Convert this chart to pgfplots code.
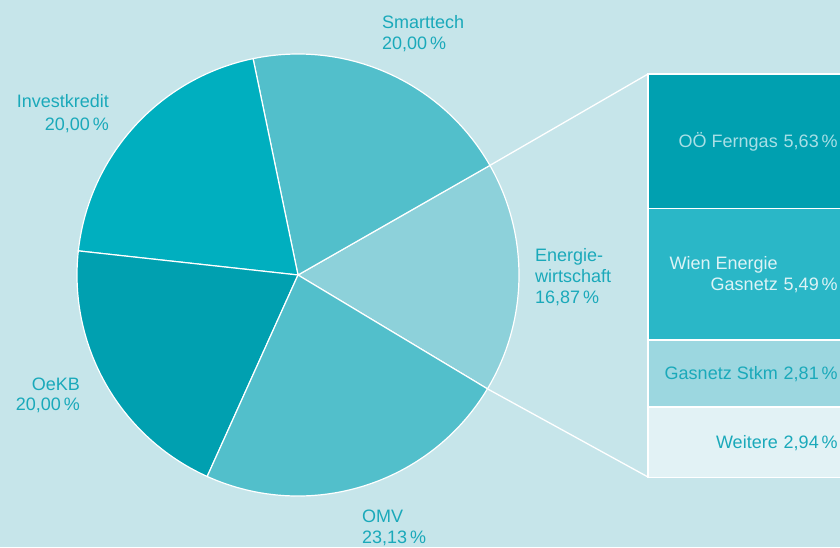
\documentclass[border=0pt]{standalone}
\usepackage{pgfplots}
\pgfplotsset{compat=1.18}
\usepackage{fontspec}
\setmainfont{Liberation Sans}
\definecolor{bgc}{HTML}{C6E5EA}
\definecolor{cdark}{HTML}{00A0B0}
\definecolor{cinv}{HTML}{00AFBF}
\definecolor{cmid}{HTML}{52BFCB}
\definecolor{cen}{HTML}{8DD1DA}
\definecolor{cwien}{HTML}{2AB7C7}
\definecolor{cgas}{HTML}{9CD7E0}
\definecolor{cweit}{HTML}{E2F2F5}
\definecolor{txt}{HTML}{1AA9BA}
\definecolor{txtl}{HTML}{A8DFE6}
\definecolor{txtw}{HTML}{DDF3F6}

% pie shares (percent), counter-clockwise from Energiewirtschaft
\pgfmathsetmacro\sA{-31}
\pgfmathsetmacro\sB{\sA+16.87*3.6} % Energiewirtschaft
\pgfmathsetmacro\sC{\sB+20.00*3.6} % Smarttech
\pgfmathsetmacro\sD{\sC+20.00*3.6} % Investkredit
\pgfmathsetmacro\sE{\sD+20.00*3.6} % OeKB
\pgfmathsetmacro\sF{\sE+23.13*3.6} % OMV

\tikzset{lbl/.style={font=\fontsize{18}{21}\selectfont, text=txt, inner sep=0pt,
  text height=12.5pt, text depth=0pt}}
\pgfplotsset{barax/.style={at={(648pt,69.7pt)}, anchor=south west, scale only axis,
    width=212pt, height=403.3pt, xmin=-0.5, xmax=0.5, ymin=0, ymax=16.87,
    enlargelimits=false, hide axis, clip=false}}

\begin{document}
\begin{tikzpicture}
\path[use as bounding box] (0,0) rectangle (840pt,547pt);
\clip (0,0) rectangle (840pt,547pt);
\fill[bgc] (0,0) rectangle (840pt,547pt);

% pie, in pixel units (y up)
\begin{axis}[x=1pt, y=1pt, xmin=0, xmax=840, ymin=0, ymax=547,
    hide axis, clip=false, at={(0,0)}, anchor=south west]
\draw[white, line width=1.3pt] (axis cs:298,272) ++(\sB:221pt) -- (axis cs:648,473);
\draw[white, line width=1.3pt] (axis cs:298,272) ++(\sA:221pt) -- (axis cs:648,70);
\fill[cen, draw=white, line width=1.2pt] (axis cs:298,272) -- ++(\sA:221pt)
  arc[start angle=\sA, end angle=\sB, radius=221pt] -- cycle;
\fill[cmid, draw=white, line width=1.2pt] (axis cs:298,272) -- ++(\sB:221pt)
  arc[start angle=\sB, end angle=\sC, radius=221pt] -- cycle;
\fill[cinv, draw=white, line width=1.2pt] (axis cs:298,272) -- ++(\sC:221pt)
  arc[start angle=\sC, end angle=\sD, radius=221pt] -- cycle;
\fill[cdark, draw=white, line width=1.2pt] (axis cs:298,272) -- ++(\sD:221pt)
  arc[start angle=\sD, end angle=\sE, radius=221pt] -- cycle;
\fill[cmid, draw=white, line width=1.2pt] (axis cs:298,272) -- ++(\sE:221pt)
  arc[start angle=\sE, end angle=\sF, radius=221pt] -- cycle;

\node[lbl, anchor=west] at (axis cs:382,524.5) {Smarttech};
\node[lbl, anchor=west] at (axis cs:382,503.3) {20,00\,\%};
\node[lbl, anchor=east] at (axis cs:109,445.3) {Investkredit};
\node[lbl, anchor=east] at (axis cs:109,423.2) {20,00\,\%};
\node[lbl, anchor=west] at (axis cs:535,292) {Energie-};
\node[lbl, anchor=west] at (axis cs:535,270.3) {wirtschaft};
\node[lbl, anchor=west] at (axis cs:535,249.5) {16,87\,\%};
\node[lbl, anchor=east] at (axis cs:80,163.2) {OeKB};
\node[lbl, anchor=east] at (axis cs:80,142.3) {20,00\,\%};
\node[lbl, anchor=west] at (axis cs:362,30.3) {OMV};
\node[lbl, anchor=west] at (axis cs:362,9.5) {23,13\,\%};
\end{axis}

% breakdown of Energiewirtschaft
\begin{axis}[barax, ybar stacked, bar width=212pt]
\addplot[fill=cweit, draw=white, line width=1.5pt] coordinates {(0,2.94)};
\addplot[fill=cgas, draw=white, line width=1.5pt] coordinates {(0,2.81)};
\addplot[fill=cwien, draw=white, line width=1.5pt] coordinates {(0,5.49)};
\addplot[fill=cdark, draw=white, line width=1.5pt] coordinates {(0,5.63)};
\end{axis}

% labels of the breakdown, same frame
\begin{axis}[barax]
\node[lbl, anchor=east, text=txtl] at (axis cs:0.113,14.055) {OÖ Ferngas};
\node[lbl, anchor=east, text=txtl] at (axis cs:0.396,14.055) {5,63\,\%};
\node[lbl, anchor=east, text=txtw] at (axis cs:0.113,8.935) {Wien Energie};
\node[lbl, anchor=east, text=txtw] at (axis cs:0.113,8.055) {Gasnetz};
\node[lbl, anchor=east, text=txtw] at (axis cs:0.396,8.055) {5,49\,\%};
\node[lbl, anchor=east] at (axis cs:0.113,4.345) {Gasnetz Stkm};
\node[lbl, anchor=east] at (axis cs:0.396,4.345) {2,81\,\%};
\node[lbl, anchor=east] at (axis cs:0.113,1.47) {Weitere};
\node[lbl, anchor=east] at (axis cs:0.396,1.47) {2,94\,\%};
\end{axis}
\end{tikzpicture}
\end{document}
